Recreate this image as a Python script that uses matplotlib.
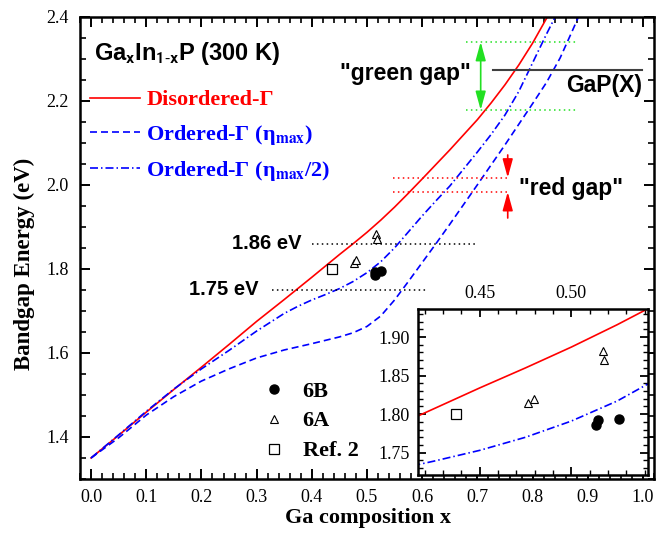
import matplotlib
matplotlib.use('Agg')
import matplotlib.pyplot as plt
from matplotlib.ticker import MultipleLocator, FormatStrFormatter

# band gaps (eV) vs Ga composition
x_dis = [0, .05, .1, .15, .2, .25, .3, .35, .4, .425, .45, .475, .5, .525,
         .55, .575, .6, .65, .7, .725, .75, .775, .8, .827]
eg_dis = [1.35, 1.404, 1.459, 1.513, 1.566, 1.620, 1.675, 1.727, 1.780,
          1.807, 1.834, 1.860, 1.887, 1.916, 1.947, 1.980, 2.014, 2.083,
          2.155, 2.195, 2.238, 2.285, 2.337, 2.40]

x_ord = [0, .05, .1, .15, .2, .25, .3, .35, .4, .45, .475, .5, .525, .55,
         .575, .6, .625, .65, .7, .75, .8, .825, .85, .875, .885]
eg_ord = [1.35, 1.398, 1.452, 1.496, 1.533, 1.562, 1.588, 1.607, 1.622,
          1.638, 1.648, 1.663, 1.688, 1.726, 1.770, 1.815, 1.860, 1.906,
          2.000, 2.095, 2.193, 2.243, 2.302, 2.375, 2.405]

x_half = [0, .05, .1, .15, .2, .25, .3, .35, .375, .4, .425, .45, .475, .5,
          .525, .55, .575, .6, .625, .65, .7, .725, .75, .775, .8, .825, .845]
eg_half = [1.35, 1.405, 1.461, 1.514, 1.562, 1.606, 1.652, 1.694, 1.711,
           1.726, 1.739, 1.753, 1.770, 1.791, 1.817, 1.850, 1.888, 1.926,
           1.962, 1.997, 2.078, 2.120, 2.166, 2.222, 2.290, 2.358, 2.41]

# measured samples
x_6b = [0.5136, 0.5145, 0.5262]
eg_6b = [1.786, 1.792, 1.794]
x_6a = [0.4766, 0.4795, 0.5172, 0.5181]
eg_6a = [1.814, 1.820, 1.882, 1.870]
x_ref2 = [0.4373]
eg_ref2 = [1.800]

# reference levels
green_gap = [2.178, 2.340]
red_gap = [1.983, 2.017]
gap_x = 2.273
led_levels = [1.86, 1.75]

plt.rcParams['font.family'] = ['Liberation Serif', 'DejaVu Serif']
plt.rcParams['mathtext.fontset'] = 'stix'

RED = '#ff0000'
BLUE = '#0000ff'
GREEN = '#22e022'
dash = (0, (4.2, 2.4))
dashdot = (0, (4.8, 1.8, 0.9, 1.8))
dots = (0, (1, 2.2))

fig = plt.figure(figsize=(6.68, 5.44), dpi=100)
ax = fig.add_axes([0.1198, 0.1195, 0.8592, 0.8498])

l_dis, = ax.plot(x_dis, eg_dis, color=RED, lw=1.2)
l_ord, = ax.plot(x_ord, eg_ord, color=BLUE, lw=1.2, ls=dash)
l_half, = ax.plot(x_half, eg_half, color=BLUE, lw=1.2, ls=dashdot)

m6b, = ax.plot(x_6b, eg_6b, 'o', color='black', ms=6.5, ls='none')
m6a, = ax.plot(x_6a, eg_6a, '^', mfc='white', mec='black', mew=0.8, ms=5.5, ls='none')
mref, = ax.plot(x_ref2, eg_ref2, 's', mfc='white', mec='black', mew=0.9, ms=7, ls='none')

ax.set_xlim(-0.02, 1.02)
ax.set_ylim(1.3, 2.4)
ax.xaxis.set_major_locator(MultipleLocator(0.1))
ax.xaxis.set_minor_locator(MultipleLocator(0.02))
ax.yaxis.set_major_locator(MultipleLocator(0.2))
ax.yaxis.set_minor_locator(MultipleLocator(0.05))
ax.xaxis.set_major_formatter(FormatStrFormatter('%.1f'))
ax.yaxis.set_major_formatter(FormatStrFormatter('%.1f'))
ax.tick_params(which='both', direction='in', top=True, right=True, labelsize=13)
ax.tick_params(which='major', length=7, width=1.4)
ax.tick_params(which='minor', length=4, width=1.2)
ax.tick_params(axis='x', pad=7)
ax.tick_params(axis='y', pad=8)
for s in ax.spines.values():
    s.set_linewidth(1.8)

ax.set_xlabel('Ga composition x', fontsize=16, fontweight='bold')
ax.set_ylabel('Bandgap Energy (eV)', fontsize=16.5, fontweight='bold')
ax.xaxis.set_label_coords(0.502, -0.062)
ax.yaxis.set_label_coords(-0.078, 0.465)

# LED levels
ax.plot([0.40, 0.698], [led_levels[0]] * 2, color='black', lw=1.1, ls=dots)
ax.plot([0.328, 0.608], [led_levels[1]] * 2, color='black', lw=1.1, ls=dots)
sans = dict(family='Liberation Sans', fontweight='bold')
ax.text(0.3815, led_levels[0], '1.86 eV', ha='right', va='center', fontsize=14.5, **sans)
ax.text(0.303, led_levels[1], '1.75 eV', ha='right', va='center', fontsize=14.5, **sans)

# green gap
for g in green_gap:
    ax.plot([0.679, 0.882], [g, g], color=GREEN, lw=1.1, ls=dots)
ax.annotate('', xy=(0.706, green_gap[1]), xytext=(0.706, green_gap[0]),
            arrowprops=dict(arrowstyle='<|-|>,head_length=0.8,head_width=0.22',
                            color=GREEN, lw=1.2, shrinkA=0, shrinkB=0, mutation_scale=14))
ax.text(0.57, 2.265, '"green gap"', ha='center', va='center', fontsize=16.5, **sans)

# GaP X level
ax.plot([0.728, 0.999], [gap_x, gap_x], color='#404040', lw=1.5)
ax.text(0.9987, 2.237, 'GaP(X)', ha='right', va='center', fontsize=16.5, **sans)

# red gap
for g in red_gap:
    ax.plot([0.547, 0.756], [g, g], color=RED, lw=1.1, ls=dots)
ax.annotate('', xy=(0.755, red_gap[1]), xytext=(0.755, 2.071),
            arrowprops=dict(arrowstyle='-|>,head_length=0.8,head_width=0.22',
                            color=RED, lw=1.2, shrinkA=0, shrinkB=0, mutation_scale=14))
ax.annotate('', xy=(0.755, red_gap[0]), xytext=(0.755, 1.921),
            arrowprops=dict(arrowstyle='-|>,head_length=0.8,head_width=0.22',
                            color=RED, lw=1.2, shrinkA=0, shrinkB=0, mutation_scale=14))
ax.text(0.775, 1.991, '"red gap"', ha='left', va='center', fontsize=16.5, **sans)

ax.text(0.005, 2.297, r'Ga$_\mathbf{x}$In$_{\mathbf{1}\text{-}\mathbf{x}}$P (300 K)',
        ha='left', va='baseline', fontsize=17, math_fontfamily='stixsans', **sans)

leg1 = ax.legend([l_dis, l_ord, l_half],
                 ['Disordered-Γ', 'Ordered-Γ (η$_\\mathbf{max}$)',
                  'Ordered-Γ (η$_\\mathbf{max}$/2)'],
                 loc='upper left', bbox_to_anchor=(0.017, 0.842), frameon=False,
                 prop=dict(size=16, weight='bold'), handlelength=2.25,
                 handletextpad=0.3, labelspacing=0.55, borderpad=0, borderaxespad=0)
for t, c in zip(leg1.get_texts(), [RED, BLUE, BLUE]):
    t.set_color(c)
ax.add_artist(leg1)

ax.legend([m6b, m6a, mref], ['6B', '6A', 'Ref. 2'], loc='upper left',
          bbox_to_anchor=(0.318, 0.212), frameon=False, numpoints=1,
          prop=dict(size=16, weight='bold'), handlelength=1.0,
          handletextpad=0.8, labelspacing=0.42, borderpad=0, borderaxespad=0)

# inset
axin = fig.add_axes([0.6262, 0.1268, 0.3443, 0.3046])
axin.plot(x_dis, eg_dis, color=RED, lw=1.2)
axin.plot(x_half, eg_half, color=BLUE, lw=1.2, ls=dashdot)
axin.plot(x_ord, eg_ord, color=BLUE, lw=1.2, ls=dash)
axin.plot(x_6b, eg_6b, 'o', color='black', ms=6.5, ls='none')
axin.plot(x_6a, eg_6a, '^', mfc='white', mec='black', mew=0.8, ms=5.5, ls='none')
axin.plot(x_ref2, eg_ref2, 's', mfc='white', mec='black', mew=0.9, ms=6.5, ls='none')
axin.set_xlim(0.4165, 0.542)
axin.set_ylim(1.721, 1.936)
axin.xaxis.set_major_locator(MultipleLocator(0.05))
axin.xaxis.set_minor_locator(MultipleLocator(0.01))
axin.yaxis.set_major_locator(MultipleLocator(0.05))
axin.yaxis.set_minor_locator(MultipleLocator(0.01))
axin.xaxis.set_major_formatter(FormatStrFormatter('%.2f'))
axin.yaxis.set_major_formatter(FormatStrFormatter('%.2f'))
axin.tick_params(which='both', direction='in', top=True, right=True,
                 labeltop=True, labelbottom=False, labelsize=13)
axin.tick_params(which='major', length=6, width=1.3)
axin.tick_params(which='minor', length=3.5, width=1.0)
axin.tick_params(axis='x', pad=5)
axin.tick_params(axis='y', pad=6)
for s in axin.spines.values():
    s.set_linewidth(1.8)

fig.savefig('out.png', dpi=100)
